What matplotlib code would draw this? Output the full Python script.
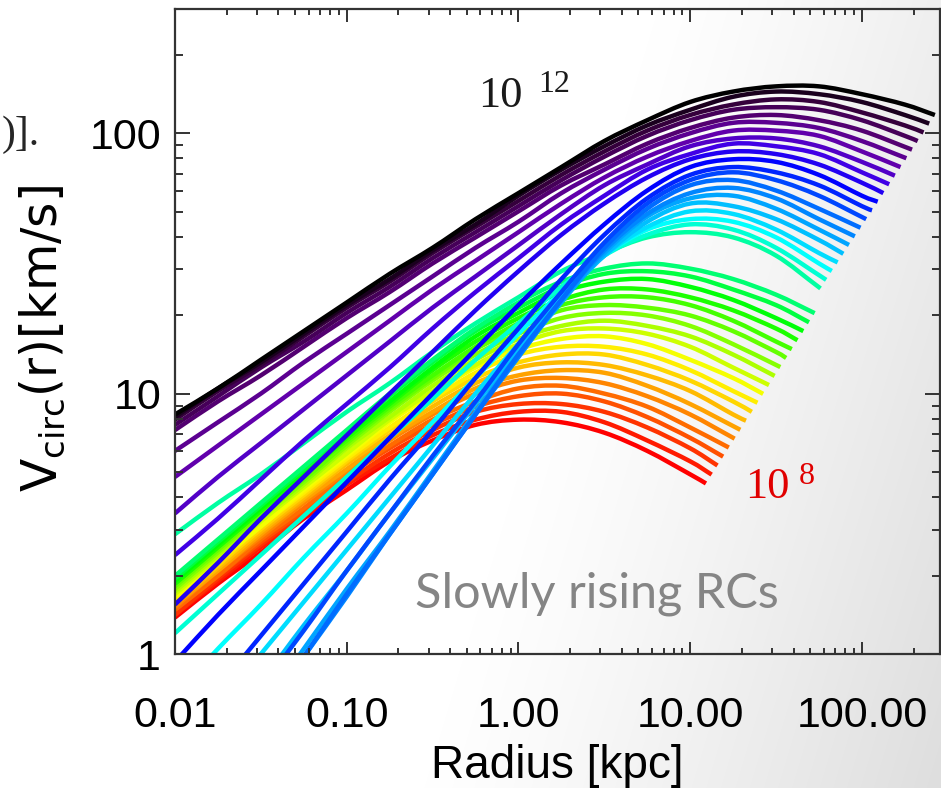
import numpy as np
import matplotlib
matplotlib.use("Agg")
from matplotlib import pyplot as plt
from matplotlib.colors import LinearSegmentedColormap
from matplotlib.ticker import NullFormatter, LogLocator
from matplotlib.path import Path
from matplotlib.patches import PathPatch

# halo masses, log10(M/Msun), one rotation curve each
LOG_MASS = [8.0, 8.1, 8.2, 8.3, 8.4, 8.5, 8.6, 8.7, 8.8, 8.9,
            9.0, 9.1, 9.2, 9.3, 9.4, 9.5, 9.6, 9.7, 9.8, 9.9,
            10.0, 10.1, 10.2, 10.3, 10.4, 10.5, 10.6, 10.7, 10.8, 10.9,
            11.0, 11.1, 11.2, 11.3, 11.4, 11.5, 11.6, 11.7, 11.8, 11.9, 12.0]

# radii where each curve is sampled, log10(r/kpc)
LOG_R = [-2.0, -1.75, -1.5, -1.25, -1.0, -0.75, -0.5, -0.25, 0.0,
         0.25, 0.5, 0.75, 1.0, 1.25, 1.5, 1.75, 2.0, 2.25]

# log10(Vcirc / km/s) at those radii, up to the last one inside the halo
LOG_V = [
    [0.14, 0.27, 0.39, 0.52, 0.63, 0.74, 0.82, 0.88, 0.90, 0.89, 0.85, 0.78, 0.69],
    [0.15, 0.28, 0.41, 0.53, 0.65, 0.75, 0.84, 0.90, 0.93, 0.93, 0.89, 0.82, 0.74],
    [0.15, 0.29, 0.42, 0.54, 0.66, 0.77, 0.86, 0.93, 0.96, 0.96, 0.93, 0.87, 0.79],
    [0.17, 0.30, 0.43, 0.55, 0.68, 0.79, 0.88, 0.95, 0.99, 1.00, 0.97, 0.91, 0.83],
    [0.17, 0.30, 0.44, 0.56, 0.69, 0.80, 0.90, 0.97, 1.02, 1.03, 1.00, 0.95, 0.87],
    [0.18, 0.32, 0.45, 0.58, 0.70, 0.82, 0.92, 1.00, 1.05, 1.06, 1.04, 0.99, 0.92],
    [0.19, 0.32, 0.46, 0.59, 0.71, 0.83, 0.93, 1.02, 1.07, 1.09, 1.08, 1.03, 0.96],
    [0.20, 0.33, 0.47, 0.60, 0.73, 0.84, 0.95, 1.04, 1.10, 1.12, 1.11, 1.07, 1.01, 0.92],
    [0.20, 0.34, 0.48, 0.61, 0.74, 0.86, 0.97, 1.06, 1.12, 1.15, 1.15, 1.11, 1.05, 0.97],
    [0.21, 0.35, 0.49, 0.62, 0.75, 0.87, 0.98, 1.08, 1.15, 1.18, 1.18, 1.15, 1.09, 1.01],
    [0.22, 0.36, 0.49, 0.63, 0.76, 0.89, 1.00, 1.10, 1.17, 1.21, 1.22, 1.19, 1.13, 1.06],
    [0.23, 0.37, 0.51, 0.64, 0.77, 0.90, 1.01, 1.11, 1.19, 1.24, 1.25, 1.23, 1.18, 1.10],
    [0.24, 0.38, 0.52, 0.65, 0.79, 0.91, 1.03, 1.13, 1.21, 1.26, 1.28, 1.26, 1.22, 1.15],
    [0.25, 0.39, 0.53, 0.66, 0.80, 0.93, 1.05, 1.15, 1.23, 1.29, 1.31, 1.30, 1.26, 1.19],
    [0.26, 0.40, 0.54, 0.67, 0.81, 0.94, 1.06, 1.17, 1.25, 1.32, 1.34, 1.33, 1.30, 1.24, 1.16],
    [0.27, 0.41, 0.55, 0.69, 0.82, 0.95, 1.07, 1.18, 1.27, 1.34, 1.37, 1.37, 1.34, 1.28, 1.20],
    [0.27, 0.41, 0.55, 0.69, 0.83, 0.96, 1.09, 1.20, 1.29, 1.36, 1.40, 1.40, 1.37, 1.32, 1.25],
    [0.28, 0.42, 0.56, 0.70, 0.84, 0.97, 1.10, 1.22, 1.31, 1.39, 1.43, 1.44, 1.41, 1.36, 1.29],
    [0.29, 0.43, 0.57, 0.71, 0.85, 0.99, 1.12, 1.24, 1.33, 1.41, 1.46, 1.47, 1.45, 1.40, 1.34],
    [0.30, 0.44, 0.58, 0.72, 0.86, 1.00, 1.13, 1.25, 1.35, 1.43, 1.48, 1.50, 1.48, 1.44, 1.38],
    [0.46, 0.58, 0.69, 0.81, 0.93, 1.04, 1.16, 1.27, 1.37, 1.47, 1.54, 1.60, 1.62, 1.60, 1.53],
    [0.08, 0.23, 0.38, 0.53, 0.68, 0.83, 0.98, 1.13, 1.27, 1.41, 1.53, 1.61, 1.65, 1.63, 1.56],
    [-0.16, 0.02, 0.19, 0.37, 0.54, 0.72, 0.89, 1.06, 1.23, 1.39, 1.53, 1.63, 1.67, 1.66, 1.60, 1.50],
    [-0.40, -0.20, 0.00, 0.20, 0.40, 0.60, 0.80, 1.00, 1.19, 1.37, 1.53, 1.64, 1.70, 1.69, 1.63, 1.54],
    [-0.54, -0.32, -0.11, 0.11, 0.32, 0.54, 0.75, 0.96, 1.17, 1.36, 1.53, 1.66, 1.73, 1.72, 1.67, 1.59],
    [-0.67, -0.44, -0.21, 0.02, 0.25, 0.47, 0.70, 0.93, 1.15, 1.35, 1.54, 1.68, 1.75, 1.76, 1.71, 1.63],
    [-0.71, -0.48, -0.24, -0.01, 0.22, 0.46, 0.69, 0.92, 1.14, 1.36, 1.55, 1.69, 1.77, 1.79, 1.75, 1.67],
    [-0.71, -0.47, -0.24, -0.01, 0.23, 0.46, 0.69, 0.92, 1.15, 1.36, 1.56, 1.71, 1.80, 1.82, 1.78, 1.71],
    [-0.57, -0.35, -0.13, 0.09, 0.32, 0.54, 0.76, 0.97, 1.19, 1.39, 1.58, 1.73, 1.82, 1.85, 1.82, 1.76],
    [-0.33, -0.13, 0.07, 0.27, 0.47, 0.67, 0.86, 1.06, 1.25, 1.44, 1.61, 1.75, 1.84, 1.87, 1.85, 1.80, 1.72],
    [-0.03, 0.15, 0.32, 0.49, 0.66, 0.83, 1.00, 1.17, 1.34, 1.50, 1.65, 1.78, 1.87, 1.90, 1.89, 1.84, 1.76],
    [0.19, 0.35, 0.52, 0.68, 0.84, 1.00, 1.16, 1.32, 1.47, 1.61, 1.73, 1.83, 1.90, 1.93, 1.92, 1.88, 1.81],
    [0.38, 0.52, 0.67, 0.82, 0.96, 1.10, 1.25, 1.39, 1.52, 1.65, 1.76, 1.86, 1.92, 1.96, 1.95, 1.92, 1.85],
    [0.54, 0.68, 0.81, 0.94, 1.07, 1.20, 1.33, 1.45, 1.57, 1.69, 1.80, 1.88, 1.95, 1.98, 1.98, 1.95, 1.89],
    [0.68, 0.80, 0.92, 1.04, 1.16, 1.28, 1.40, 1.51, 1.62, 1.73, 1.83, 1.91, 1.97, 2.01, 2.01, 1.99, 1.93],
    [0.78, 0.89, 1.00, 1.12, 1.23, 1.34, 1.45, 1.56, 1.66, 1.77, 1.86, 1.94, 2.00, 2.04, 2.04, 2.02, 1.97],
    [0.86, 0.97, 1.07, 1.18, 1.29, 1.39, 1.50, 1.60, 1.70, 1.80, 1.88, 1.96, 2.02, 2.06, 2.07, 2.05, 2.01],
    [0.88, 0.99, 1.10, 1.20, 1.31, 1.41, 1.52, 1.62, 1.72, 1.82, 1.91, 1.99, 2.05, 2.09, 2.10, 2.09, 2.05, 1.99],
    [0.90, 1.01, 1.11, 1.22, 1.33, 1.43, 1.54, 1.64, 1.74, 1.84, 1.93, 2.01, 2.07, 2.11, 2.13, 2.12, 2.08, 2.03],
    [0.91, 1.02, 1.12, 1.23, 1.34, 1.44, 1.55, 1.65, 1.76, 1.86, 1.95, 2.03, 2.09, 2.14, 2.16, 2.15, 2.12, 2.07],
    [0.92, 1.02, 1.13, 1.24, 1.35, 1.46, 1.56, 1.67, 1.77, 1.87, 1.97, 2.05, 2.12, 2.16, 2.18, 2.18, 2.15, 2.11],
]

# outer end of each curve (halo edge): log10 r [kpc], log10 V [km/s]
LOG_R_END = [1.092, 1.125, 1.159, 1.192, 1.225, 1.259, 1.292, 1.325, 1.359, 1.392,
             1.425, 1.459, 1.492, 1.525, 1.559, 1.592, 1.625, 1.659, 1.692, 1.725,
             1.759, 1.792, 1.825, 1.859, 1.892, 1.925, 1.959, 1.992, 2.025, 2.059,
             2.092, 2.125, 2.159, 2.192, 2.225, 2.259, 2.292, 2.325, 2.359, 2.392, 2.425]
LOG_V_END = [0.655, 0.689, 0.724, 0.758, 0.793, 0.827, 0.861, 0.896, 0.930, 0.965,
             0.999, 1.033, 1.068, 1.102, 1.137, 1.171, 1.205, 1.240, 1.274, 1.309,
             1.404, 1.437, 1.471, 1.504, 1.537, 1.571, 1.604, 1.637, 1.670, 1.704,
             1.737, 1.770, 1.804, 1.837, 1.870, 1.904, 1.937, 1.970, 2.003, 2.037, 2.070]

XTICKS = [0.01, 0.1, 1, 10, 100]
XTICKLABELS = ["0.01", "0.10", "1.00", "10.00", "100.00"]
YTICKS = [1, 10, 100]
YTICKLABELS = ["1", "10", "100"]

W, H = 941, 788


def smooth_path(lx, ly):
    # cubic bezier through every sample (catmull-rom), built in log-log space
    p = np.column_stack([lx, ly])
    ext = np.vstack([2 * p[0] - p[1], p, 2 * p[-1] - p[-2]])
    verts = [p[0]]
    codes = [Path.MOVETO]
    for k in range(1, len(ext) - 2):
        p0, p1, p2, p3 = ext[k - 1], ext[k], ext[k + 1], ext[k + 2]
        verts += [p1 + (p2 - p0) / 6.0, p2 - (p3 - p1) / 6.0, p2]
        codes += [Path.CURVE4] * 3
    return Path(10 ** np.array(verts), codes)


def main():
    # rainbow running from black (high mass) to red (low mass)
    cols = [(0.00, (0, 0, 0)), (0.05, (0.22, 0, 0.25)), (0.10, (0.33, 0, 0.45)), (0.15, (0.38, 0, 0.68)),
            (0.20, (0.25, 0, 0.90)), (0.25, (0, 0, 1)), (0.32, (0, 0.4, 1)), (0.40, (0, 0.75, 1)),
            (0.45, (0, 1, 1)), (0.50, (0, 1, 0.65)), (0.58, (0, 1, 0)), (0.68, (0.55, 1, 0)),
            (0.76, (1, 1, 0)), (0.86, (1, 0.6, 0)), (1.00, (1, 0, 0))]
    cmap = LinearSegmentedColormap.from_list("rc", cols)

    plt.rcParams['font.family'] = ['Liberation Sans', 'DejaVu Sans']
    plt.rcParams['mathtext.fontset'] = 'dejavusans'

    fig = plt.figure(figsize=(W / 100, H / 100), dpi=100)

    # slide background, fading to grey towards the right
    yy, xx = np.mgrid[0:H, 0:W]
    g = np.clip((xx + 0.3 * yy - 660) / (W + 0.3 * H - 660), 0, 1)
    shade = 1 - 0.13 * g ** 1.2
    fig.figimage(np.dstack([shade] * 3), 0, 0, origin='upper', zorder=-5)

    ax = fig.add_axes([175 / W, (H - 654) / H, (940 - 175) / W, (654 - 9) / H], zorder=2)
    ax.set_facecolor('none')
    ax.set_xscale('log')
    ax.set_yscale('log')
    ax.set_xlim(0.01, 285)
    ax.set_ylim(1, 300)

    for m, lv, re, ve in zip(LOG_MASS, LOG_V, LOG_R_END, LOG_V_END):
        lx = LOG_R[:len(lv)] + [re]
        ly = lv + [ve]
        ax.add_patch(PathPatch(smooth_path(lx, ly), facecolor='none', edgecolor=cmap((12.0 - m) / 4.0),
                               lw=3.2, capstyle='butt', joinstyle='round'))

    ax.set_xticks(XTICKS)
    ax.set_xticklabels(XTICKLABELS)
    ax.set_yticks(YTICKS)
    ax.set_yticklabels(YTICKLABELS)
    ax.xaxis.set_minor_locator(LogLocator(subs=np.arange(2, 10)))
    ax.yaxis.set_minor_locator(LogLocator(subs=np.arange(2, 10)))
    ax.xaxis.set_minor_formatter(NullFormatter())
    ax.yaxis.set_minor_formatter(NullFormatter())
    ax.tick_params(which='both', direction='in', top=True, right=True, width=1.4, color='0.2', labelsize=31)
    ax.tick_params(axis='x', which='major', length=9, pad=30)
    ax.tick_params(axis='x', which='minor', length=4.5)
    ax.tick_params(axis='y', which='major', length=11, pad=10)
    ax.tick_params(axis='y', which='minor', length=6)
    for sp in ax.spines.values():
        sp.set_linewidth(1.6)
        sp.set_color('0.2')
        sp.set_zorder(3)

    fig.text(557 / W, 1 - 778 / H, "Radius [kpc]", ha='center', va='baseline', fontsize=33)
    fig.text(42 / W, 1 - 339 / H, r"V$_{\rm circ}$(r)[km/s]", ha='center', va='center', rotation=90,
             fontsize=35, family='DejaVu Sans')

    fig.text(478 / W, 1 - 107 / H, "10", family='Liberation Serif', fontsize=32, color='0.1')
    fig.text(538 / W, 1 - 92 / H, "12", family='Liberation Serif', fontsize=23, color='0.1')
    fig.text(745 / W, 1 - 498 / H, "10", family='Liberation Serif', fontsize=32, color='#e00000')
    fig.text(799 / W, 1 - 484 / H, "8", family='Liberation Serif', fontsize=23, color='#e00000')
    fig.text(415 / W, 1 - 608 / H, "Slowly rising RCs", family='Lato', fontsize=35, color='#858585')

    fig.text(2 / W, 1 - 145 / H, ")].", ha='left', family='Liberation Serif', fontsize=30, color='0.15')

    fig.savefig("out.png", dpi=100)


if __name__ == "__main__":
    main()
